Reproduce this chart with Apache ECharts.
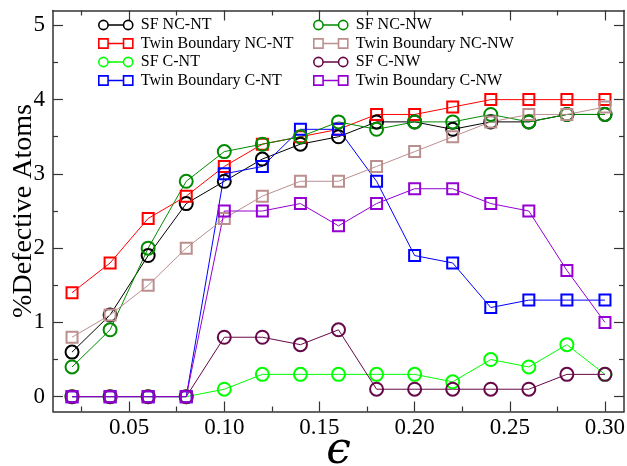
<!DOCTYPE html>
<html>
<head>
<meta charset="utf-8">
<script src="https://cdn.jsdelivr.net/npm/echarts@6/dist/echarts.min.js"></script>
<style>html,body{margin:0;padding:0;background:#fff}#c{width:627px;height:466px}</style>
</head>
<body>
<div id="c"></div>
<script>
// ---- data ----
var strain = [0.02,0.04,0.06,0.08,0.10,0.12,0.14,0.16,0.18,0.20,0.22,0.24,0.26,0.28,0.30];
var sfNCNT = [0.6,1.1,1.9,2.6,2.9,3.2,3.4,3.5,3.7,3.7,3.6,3.7,3.7,3.8,3.8];
var tbNCNT = [1.4,1.8,2.4,2.7,3.1,3.4,3.5,3.6,3.8,3.8,3.9,4.0,4.0,4.0,4.0];
var sfCNT  = [0,0,0,0,0.1,0.3,0.3,0.3,0.3,0.3,0.2,0.5,0.4,0.7,0.3];
var tbCNT  = [0,0,0,0,3.0,3.1,3.6,3.6,2.9,1.9,1.8,1.2,1.3,1.3,1.3];
var sfNCNW = [0.4,0.9,2.0,2.9,3.3,3.4,3.5,3.7,3.6,3.7,3.7,3.8,3.7,3.8,3.8];
var tbNCNW = [0.8,1.1,1.5,2.0,2.4,2.7,2.9,2.9,3.1,3.3,3.5,3.7,3.8,3.8,3.9];
var sfCNW  = [0,0,0,0,0.8,0.8,0.7,0.9,0.1,0.1,0.1,0.1,0.1,0.3,0.3];
var tbCNW  = [0,0,0,0,2.5,2.5,2.6,2.3,2.6,2.8,2.8,2.6,2.5,1.7,1.0];
var xMajorTicks = [0.05,0.10,0.15,0.20,0.25,0.30];
var xMinorTicks = [0.025,0.075,0.125,0.175,0.225,0.275];
var yMajorTicks = [0,1,2,3,4,5];
var yMinorTicks = [0.5,1.5,2.5,3.5,4.5];
var seriesNames = ['SF NC-NT','Twin Boundary NC-NT','SF C-NT','Twin Boundary C-NT',
                   'SF NC-NW','Twin Boundary NC-NW','SF C-NW','Twin Boundary C-NW'];
var seriesValues = [sfNCNT, tbNCNT, sfCNT, tbCNT, sfNCNW, tbNCNW, sfCNW, tbCNW];
var seriesColors = ['#000000','#ff0000','#00ff00','#0000ff','#008b00','#bc8f8f','#670748','#9400d3'];
var seriesShapes = ['circle','rect','circle','rect','circle','rect','circle','rect'];

// ---- chart ----
var FONT = 'Liberation Serif, Times New Roman, serif';
var AX = '#333';
var circleIcon = 'path://M0.5,5a4.5,4.5 0 1,0 9,0a4.5,4.5 0 1,0 -9,0M9.5,5L24.5,5M24.5,5a4.5,4.5 0 1,0 9,0a4.5,4.5 0 1,0 -9,0';
var rectIcon = 'path://M0.5,0.5h9v9h-9ZM9.5,5L24.5,5M24.5,0.5h9v9h-9Z';

function pts(vals){ return strain.map(function(x,i){ return [x, vals[i]]; }); }

var series = seriesNames.map(function(n,i){
  return {
    name: n, type: 'line', xAxisIndex: 0, yAxisIndex: 0,
    data: pts(seriesValues[i]),
    symbol: seriesShapes[i],
    symbolSize: seriesShapes[i] === 'circle' ? 13 : 11,
    lineStyle: {color: seriesColors[i], width: 1},
    itemStyle: {color: 'rgba(0,0,0,0)', borderColor: seriesColors[i], borderWidth: 2},
    emphasis: {disabled: true},
    animation: false
  };
});

function legendData(idx){
  return idx.map(function(i){
    return {
      name: seriesNames[i],
      icon: seriesShapes[i] === 'circle' ? circleIcon : rectIcon,
      itemStyle: {color: 'rgba(0,0,0,0)', borderColor: seriesColors[i], borderWidth: 1.6}
    };
  });
}

function xAx(pos, major, showLine){
  return {
    type: 'value', position: pos, min: 0.01, max: 0.31,
    axisLine: {show: showLine, onZero: false, lineStyle: {color: AX, width: 1.5}},
    axisTick: {show: true, inside: true, length: major ? 10 : 5, customValues: major ? xMajorTicks : xMinorTicks, lineStyle: {color: AX, width: 1.2}},
    axisLabel: {show: pos === 'bottom' && major, customValues: xMajorTicks, margin: 5, color: '#000',
      fontFamily: FONT, fontSize: 23, formatter: function(v){ return v.toFixed(2); }},
    splitLine: {show: false}
  };
}
function yAx(pos, major, showLine){
  return {
    type: 'value', position: pos, min: -0.2, max: 5.2,
    axisLine: {show: showLine, onZero: false, lineStyle: {color: AX, width: 1.5}},
    axisTick: {show: true, inside: true, length: major ? 10 : 5, customValues: major ? yMajorTicks : yMinorTicks, lineStyle: {color: AX, width: 1.2}},
    axisLabel: {show: pos === 'left' && major, customValues: yMajorTicks, margin: 8, color: '#000',
      fontFamily: FONT, fontSize: 23},
    splitLine: {show: false}
  };
}

var xa0 = xAx('bottom', true, true);
xa0.name = '\u03f5';
xa0.nameLocation = 'middle';
xa0.nameGap = 18;
xa0.nameMoveOverlap = false;
xa0.nameTextStyle = {fontFamily: 'DejaVu Serif, Liberation Serif, serif', fontStyle: 'italic', fontSize: 44, color: '#000', verticalAlign: 'top'};
var ya0 = yAx('left', true, true);
ya0.name = '%Defective Atoms';
ya0.nameLocation = 'middle';
ya0.nameGap = 15;
ya0.nameMoveOverlap = false;
ya0.nameTextStyle = {fontFamily: FONT, fontSize: 28, color: '#000'};

var chart = echarts.init(document.getElementById('c'), null, {renderer: 'canvas'});
chart.setOption({
  animation: false,
  backgroundColor: '#fff',
  grid: {left: 53, right: 3, top: 10.5, bottom: 54.5, containLabel: false, outerBoundsMode: 'none'},
  xAxis: [xa0, xAx('bottom', false, false), xAx('top', true, true), xAx('top', false, false)],
  yAxis: [ya0, yAx('left', false, false), yAx('right', true, true), yAx('right', false, false)],
  legend: [
    {orient: 'vertical', left: 98, top: 17, padding: 0, itemGap: 2.5, itemWidth: 34, itemHeight: 10,
     selectedMode: false, textStyle: {fontFamily: FONT, fontSize: 16, color: '#000', lineHeight: 16, padding: [0,0,0,3]},
     data: legendData([0,1,2,3])},
    {orient: 'vertical', left: 313, top: 17, padding: 0, itemGap: 2.5, itemWidth: 34, itemHeight: 10,
     selectedMode: false, textStyle: {fontFamily: FONT, fontSize: 16, color: '#000', lineHeight: 16, padding: [0,0,0,3]},
     data: legendData([4,5,6,7])}
  ],
  series: series
});
</script>
</body>
</html>
